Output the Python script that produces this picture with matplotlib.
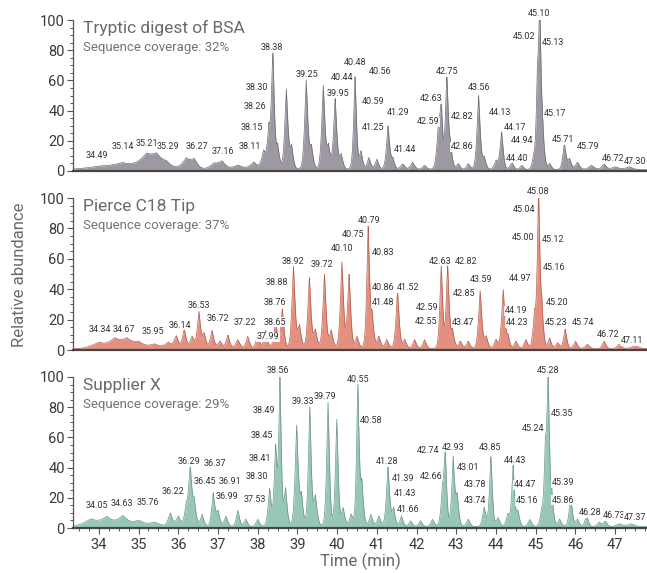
import numpy as np
import matplotlib
matplotlib.use("Agg")
import matplotlib.pyplot as plt
from matplotlib.ticker import MultipleLocator

plt.rcParams['font.family'] = ['Roboto', 'DejaVu Sans']

# ---------------- data ----------------
panel_titles = ["Tryptic digest of BSA", "Pierce C18 Tip", "Supplier X"]
coverage = ["Sequence coverage: 32%", "Sequence coverage: 37%", "Sequence coverage: 29%"]

# peak retention times (min), heights (% relative abundance), widths (min)
bsa_rt = [34.0, 34.6, 35.2, 35.45, 35.7, 36.2, 36.4, 36.9, 37.1, 37.5, 37.9, 38.15, 38.28, 38.38,
          38.5, 38.72, 38.85, 39.22, 39.35, 39.65, 39.78, 39.95, 40.1, 40.45, 40.6, 40.8, 41.0,
          41.28, 41.4, 41.65, 41.9, 42.2, 42.55, 42.62, 42.76, 42.85, 43.05, 43.3, 43.56, 43.7,
          44.0, 44.14, 44.4, 44.65, 44.95, 45.04, 45.1, 45.17, 45.35, 45.72, 45.85, 46.05, 46.4,
          46.72, 47.0, 47.35]
bsa_h = [2, 4, 9, 7, 4, 7, 6, 4, 5, 3, 5, 12, 25, 78,
         15, 53, 15, 59, 15, 56, 15, 47, 10, 62, 12, 8, 7,
         29, 7, 4, 5, 3, 25, 38, 61, 15, 4, 4, 49, 8,
         6, 25, 5, 3, 8, 50, 100, 25, 4, 17, 7, 5, 3,
         4, 2, 2]
bsa_w = [0.4, 0.3, 0.2, 0.15, 0.15, 0.12, 0.1, 0.12, 0.1, 0.15, 0.1, 0.06, 0.045, 0.04,
         0.05, 0.045, 0.05, 0.045, 0.05, 0.045, 0.05, 0.045, 0.05, 0.04, 0.045, 0.05, 0.05,
         0.045, 0.05, 0.06, 0.06, 0.06, 0.05, 0.04, 0.04, 0.05, 0.05, 0.05, 0.045, 0.05,
         0.05, 0.045, 0.05, 0.05, 0.045, 0.035, 0.035, 0.045, 0.05, 0.045, 0.05, 0.06, 0.08,
         0.06, 0.1, 0.1]

pierce_rt = [34.0, 34.4, 34.7, 35.0, 35.4, 35.75, 35.95, 36.15, 36.35, 36.52, 36.65, 36.85, 37.05,
             37.25, 37.5, 37.75, 38.0, 38.2, 38.45, 38.62, 38.9, 39.05, 39.3, 39.45, 39.68, 39.85,
             40.12, 40.3, 40.5, 40.78, 40.88, 41.05, 41.25, 41.52, 41.7, 41.95, 42.2, 42.62, 42.78,
             42.9, 43.1, 43.3, 43.6, 43.75, 44.0, 44.18, 44.3, 44.5, 44.75, 44.97, 45.07, 45.15,
             45.35, 45.55, 45.74, 46.0, 46.3, 46.72, 47.1, 47.5]
pierce_h = [4, 6, 6, 4, 3, 4, 8, 13, 8, 24, 10, 12, 5,
            9, 6, 8, 9, 12, 18, 26, 54, 15, 47, 12, 49, 12,
            57, 49, 8, 80, 20, 8, 6, 38, 6, 6, 6, 55, 55,
            12, 5, 5, 38, 8, 6, 39, 8, 5, 6, 22, 100, 25,
            7, 4, 13, 5, 3, 5, 3, 2]
pierce_w = [0.2, 0.15, 0.15, 0.15, 0.15, 0.1, 0.06, 0.05, 0.06, 0.045, 0.05, 0.05, 0.06,
            0.05, 0.06, 0.05, 0.05, 0.05, 0.05, 0.045, 0.045, 0.05, 0.045, 0.05, 0.045, 0.05,
            0.045, 0.045, 0.05, 0.04, 0.045, 0.05, 0.05, 0.045, 0.05, 0.05, 0.05, 0.04, 0.04,
            0.05, 0.05, 0.05, 0.045, 0.05, 0.05, 0.045, 0.045, 0.05, 0.05, 0.045, 0.036, 0.045,
            0.045, 0.05, 0.045, 0.05, 0.06, 0.05, 0.06, 0.1]

supx_rt = [33.8, 34.2, 34.6, 35.0, 35.4, 35.8, 36.0, 36.2, 36.3, 36.4, 36.6, 36.88, 37.0, 37.2,
           37.5, 37.7, 38.0, 38.3, 38.45, 38.56, 38.7, 38.98, 39.1, 39.31, 39.45, 39.77, 39.99,
           40.15, 40.35, 40.52, 40.62, 40.85, 41.05, 41.28, 41.42, 41.62, 41.85, 42.1, 42.4,
           42.65, 42.72, 42.92, 43.02, 43.3, 43.7, 43.87, 44.05, 44.3, 44.43, 44.55, 44.85,
           45.15, 45.24, 45.31, 45.4, 45.6, 45.88, 46.05, 46.28, 46.6, 46.75, 47.1, 47.4]
supx_h = [5, 6, 7, 4, 3, 9, 7, 13, 38, 16, 8, 22, 10, 7,
          11, 5, 5, 25, 52, 98, 25, 67, 20, 80, 20, 83, 71,
          12, 8, 96, 28, 8, 7, 40, 12, 7, 4, 4, 5,
          20, 47, 45, 20, 5, 13, 47, 6, 8, 40, 10, 5,
          10, 45, 98, 20, 5, 20, 5, 8, 3, 4, 2, 2]
supx_w = [0.2, 0.15, 0.15, 0.15, 0.15, 0.06, 0.06, 0.05, 0.045, 0.05, 0.05, 0.045, 0.05, 0.05,
          0.045, 0.05, 0.05, 0.045, 0.04, 0.036, 0.045, 0.045, 0.045, 0.04, 0.05, 0.04, 0.04,
          0.05, 0.05, 0.036, 0.045, 0.05, 0.05, 0.045, 0.045, 0.045, 0.05, 0.05, 0.05,
          0.045, 0.04, 0.04, 0.045, 0.05, 0.045, 0.04, 0.05, 0.05, 0.04, 0.045, 0.05,
          0.045, 0.035, 0.036, 0.045, 0.05, 0.045, 0.05, 0.045, 0.06, 0.05, 0.08, 0.1]

# peak labels: text, label x (min), label y (%)
bsa_labels = [("34.49", 33.95, 10), ("35.14", 34.6, 16.5), ("35.21", 35.21, 18), ("35.29", 35.74, 16),
              ("36.27", 36.47, 16), ("37.16", 37.12, 12.6), ("38.11", 37.8, 16), ("38.15", 37.85, 28.5),
              ("38.26", 37.93, 43), ("38.30", 37.98, 55.6), ("38.38", 38.36, 81.5), ("39.25", 39.24, 63.6),
              ("40.44", 40.12, 62), ("39.95", 40.02, 51.6), ("40.48", 40.45, 72), ("40.56", 41.08, 65.6),
              ("40.59", 40.9, 46), ("41.29", 41.53, 38.6), ("41.25", 40.9, 28.6), ("41.44", 41.7, 14),
              ("42.75", 42.77, 65.6), ("42.63", 42.37, 48), ("42.59", 42.29, 32.5), ("42.82", 43.14, 36),
              ("42.86", 43.14, 16), ("43.56", 43.57, 55.6), ("44.13", 44.1, 38.6), ("44.17", 44.48, 28.6),
              ("44.94", 44.65, 20.5), ("44.40", 44.53, 8.6), ("45.10", 45.08, 104), ("45.02", 44.7, 89),
              ("45.13", 45.44, 85), ("45.17", 45.49, 38), ("45.71", 45.69, 21), ("45.79", 46.32, 16),
              ("46.72", 46.95, 8), ("47.30", 47.5, 6.6)]
pierce_labels = [("34.34", 34.03, 13.8), ("34.67", 34.63, 13.8), ("35.95", 35.36, 12.5), ("36.14", 36.04, 16.4),
                 ("36.53", 36.52, 29.6), ("36.72", 37.0, 21), ("37.22", 37.68, 18.4), ("38.65", 38.43, 18.4),
                 ("38.76", 38.43, 31), ("38.88", 38.48, 44.7), ("38.92", 38.89, 58.5), ("37.99", 38.26, 8.6),
                 ("39.72", 39.62, 56), ("40.10", 40.12, 67), ("40.75", 40.4, 76), ("40.79", 40.8, 85.5),
                 ("40.83", 41.15, 64), ("40.86", 41.15, 41), ("41.52", 41.78, 41), ("41.48", 41.15, 31),
                 ("42.63", 42.59, 58.5), ("42.82", 43.24, 58.5), ("42.59", 42.26, 28), ("42.55", 42.24, 19),
                 ("42.85", 43.19, 37.5), ("43.47", 43.17, 17.8), ("43.59", 43.62, 46.7), ("44.97", 44.6, 47),
                 ("44.19", 44.5, 25.7), ("44.23", 44.53, 18), ("45.08", 45.06, 104), ("45.04", 44.7, 92.5),
                 ("45.00", 44.68, 74), ("45.12", 45.44, 73), ("45.16", 45.46, 54), ("45.20", 45.54, 31),
                 ("45.23", 45.51, 18.4), ("45.74", 46.19, 18.4), ("46.72", 46.82, 10.5), ("47.11", 47.43, 6)]
supx_labels = [("38.56", 38.51, 104), ("38.49", 38.16, 77.5), ("38.45", 38.1, 61), ("38.41", 38.06, 46),
               ("38.30", 37.98, 34), ("37.53", 37.93, 19), ("39.33", 39.14, 83.5), ("39.79", 39.7, 87),
               ("40.55", 40.52, 98.6), ("40.58", 40.85, 71), ("41.28", 41.25, 44), ("41.39", 41.66, 33),
               ("41.43", 41.7, 23), ("41.66", 41.78, 12), ("42.74", 42.29, 51), ("42.66", 42.36, 34.4),
               ("42.93", 42.92, 53.6), ("43.01", 43.3, 40), ("43.78", 43.47, 28.5), ("43.74", 43.47, 18.5),
               ("43.85", 43.85, 53), ("44.43", 44.48, 45), ("44.47", 44.73, 28.5), ("45.16", 44.78, 18),
               ("45.28", 45.31, 104), ("45.35", 45.66, 76), ("45.24", 44.93, 66), ("45.39", 45.69, 30),
               ("45.86", 45.69, 18.5), ("46.28", 46.37, 10), ("46.73", 46.98, 8), ("47.37", 47.5, 7),
               ("36.29", 36.27, 44), ("36.37", 36.92, 43), ("36.45", 36.67, 31), ("36.91", 37.3, 30.5),
               ("36.99", 37.22, 21), ("36.22", 35.86, 24.5), ("35.76", 35.23, 17), ("34.63", 34.58, 16.5),
               ("34.05", 33.95, 15)]

x_ticks = list(range(34, 48))
y_ticks = [0, 20, 40, 60, 80, 100]

# ---------------- drawing ----------------
panels = [
    (bsa_rt, bsa_h, bsa_w, bsa_labels, "#9d98a2", "#6f6a74"),
    (pierce_rt, pierce_h, pierce_w, pierce_labels, "#e2907f", "#b85a4a"),
    (supx_rt, supx_h, supx_w, supx_labels, "#98c7b5", "#6a958a"),
]

fig = plt.figure(figsize=(6.47, 5.73), dpi=100)
W, H = 647, 573
left_px, right_px = 73, 647
tops = [20, 198, 377]
bottoms = [171, 350, 528]

t = np.linspace(33.35, 47.8, 5000)
for i, (rt, hh, ww, labs, fc, lc) in enumerate(panels):
    ax = fig.add_axes([left_px / W, 1 - bottoms[i] / H, (right_px - left_px) / W,
                       (bottoms[i] - tops[i]) / H])
    y = np.zeros_like(t) + 0.8
    for c, h, w in zip(rt, hh, ww):
        d = np.abs(t - c) / w
        # sharp-tipped chromatographic peak with wider base
        y += h * (0.55 * np.exp(-d) + 0.45 * np.exp(-0.5 * d ** 2))
    y = np.minimum(y, 100)
    ax.fill_between(t, 0, y, color=fc, lw=0, zorder=1)
    ax.plot(t, y, color=lc, lw=0.5, zorder=2)
    ax.set_xlim(33.35, 47.8)
    ax.set_ylim(0, 100)
    for s in ["top", "right"]:
        ax.spines[s].set_visible(False)
    ax.spines["left"].set_color("#555555")
    ax.spines["left"].set_linewidth(0.9)
    ax.spines["bottom"].set_color("#444444")
    ax.spines["bottom"].set_linewidth(1.6)
    ax.set_yticks(y_ticks)
    ax.yaxis.set_minor_locator(MultipleLocator(5))
    ax.tick_params(axis="y", which="major", length=4, width=0.8, color="#555555",
                   labelsize=10.5, labelcolor="#3a3a3a", pad=2)
    ax.tick_params(axis="y", which="minor", length=2.5, width=0.7, color="#555555")
    if i < 2:
        ax.set_xticks([])
    else:
        ax.set_xticks(x_ticks)
        ax.xaxis.set_minor_locator(MultipleLocator(0.25))
        ax.tick_params(axis="x", which="major", length=4, width=0.8, color="#555555",
                       labelsize=10.5, labelcolor="#3a3a3a", pad=3)
        ax.tick_params(axis="x", which="minor", length=2.5, width=0.7, color="#555555")
        ax.set_xlabel("Time (min)", fontsize=12, color="#666666", labelpad=1)
    ax.text(0.018, 0.947, panel_titles[i], transform=ax.transAxes, fontsize=12.5,
            color="#6a6a6a", va="center", ha="left")
    ax.text(0.018, 0.82, coverage[i], transform=ax.transAxes, fontsize=9.5,
            color="#737373", va="center", ha="left")
    for txt, lx, ly in labs:
        ax.text(lx, ly, txt, fontsize=6.5, color="#333333", ha="center", va="center",
                clip_on=False, zorder=5,
                bbox=dict(boxstyle="square,pad=0.08", facecolor="white", edgecolor="none", alpha=0.9))

fig.text(20 / W, 1 - 275 / H, "Relative abundance", rotation=90, fontsize=12,
         color="#6a6a6a", ha="center", va="center")

fig.savefig("out.png", dpi=100)
